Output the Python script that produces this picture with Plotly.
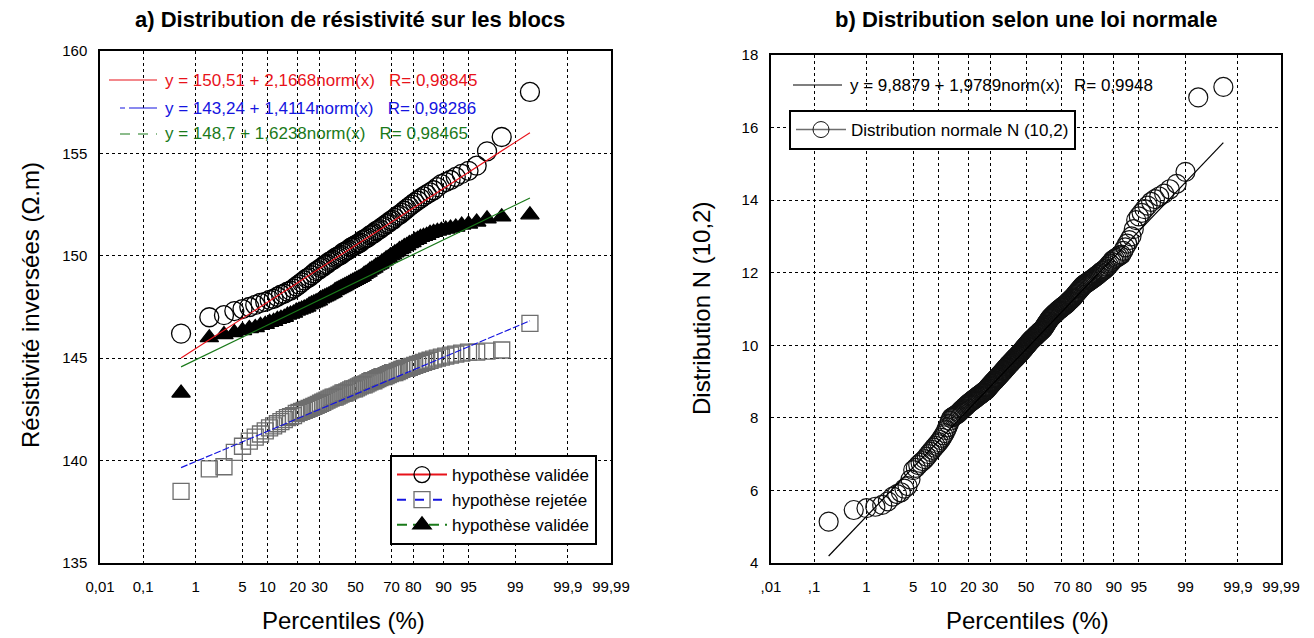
from statistics import NormalDist
import plotly.graph_objects as go

W, H = 1314, 638
OFF = 8  # marge par defaut du <body> de la page
nd = NormalDist()

# axes de probabilite (percentiles)
pct_ticks = [0.01, 0.1, 1, 5, 10, 20, 30, 50, 70, 80, 90, 95, 99, 99.9, 99.99]
labels_a = ["0,01", "0,1", "1", "5", "10", "20", "30", "50", "70", "80", "90", "95", "99", "99,9", "99,99"]
labels_b = [",01", ",1", "1", "5", "10", "20", "30", "50", "70", "80", "90", "95", "99", "99,9", "99,99"]

# a) resistivite inversee sur les blocs (valeurs triees)
bloc_valide_1 = [
    146.2, 147.0, 147.1, 147.3, 147.4, 147.5, 147.6, 147.7, 147.75, 147.85,
    147.9, 148.0, 148.1, 148.15, 148.25, 148.3, 148.4, 148.5, 148.6, 148.7,
    148.8, 148.9, 148.95, 149.05, 149.15, 149.25, 149.3, 149.4, 149.45, 149.55,
    149.6, 149.7, 149.75, 149.8, 149.9, 149.95, 150.0, 150.05, 150.15, 150.2,
    150.25, 150.3, 150.4, 150.45, 150.5, 150.55, 150.6, 150.65, 150.75, 150.8,
    150.85, 150.9, 151.0, 151.05, 151.1, 151.2, 151.25, 151.3, 151.4, 151.45,
    151.55, 151.6, 151.7, 151.75, 151.85, 151.95, 152.0, 152.1, 152.2, 152.3,
    152.4, 152.5, 152.6, 152.7, 152.8, 152.9, 153.0, 153.1, 153.2, 153.35,
    153.5, 153.6, 153.7, 153.85, 154.0, 154.15, 154.4, 155.1, 155.8, 158.0]
bloc_rejete = [
    138.5, 139.6, 139.7, 140.4, 140.7, 140.95, 141.15, 141.3, 141.45, 141.6,
    141.7, 141.8, 141.9, 142.0, 142.1, 142.15, 142.2, 142.3, 142.35, 142.4,
    142.45, 142.5, 142.55, 142.6, 142.65, 142.7, 142.75, 142.8, 142.85, 142.9,
    142.95, 143.0, 143.05, 143.1, 143.1, 143.15, 143.2, 143.25, 143.3, 143.3,
    143.35, 143.4, 143.45, 143.5, 143.5, 143.55, 143.6, 143.65, 143.7, 143.7,
    143.75, 143.8, 143.85, 143.9, 143.9, 143.95, 144.0, 144.05, 144.1, 144.1,
    144.15, 144.2, 144.25, 144.3, 144.3, 144.35, 144.4, 144.45, 144.5, 144.5,
    144.55, 144.6, 144.65, 144.7, 144.75, 144.8, 144.85, 144.9, 144.95, 145.0,
    145.05, 145.1, 145.15, 145.2, 145.25, 145.3, 145.3, 145.35, 145.4, 146.7]
bloc_valide_2 = [
    143.3, 146.0, 146.15, 146.25, 146.35, 146.45, 146.5, 146.6, 146.65, 146.75,
    146.8, 146.9, 146.95, 147.0, 147.1, 147.15, 147.2, 147.3, 147.35, 147.4,
    147.45, 147.5, 147.6, 147.65, 147.7, 147.75, 147.8, 147.9, 147.95, 148.0,
    148.05, 148.1, 148.15, 148.2, 148.3, 148.35, 148.4, 148.45, 148.5, 148.55,
    148.6, 148.65, 148.7, 148.75, 148.8, 148.85, 148.9, 148.95, 149.0, 149.1,
    149.15, 149.2, 149.3, 149.35, 149.4, 149.5, 149.55, 149.6, 149.7, 149.75,
    149.85, 149.9, 150.0, 150.05, 150.15, 150.2, 150.3, 150.35, 150.45, 150.5,
    150.6, 150.65, 150.75, 150.8, 150.9, 150.95, 151.0, 151.1, 151.15, 151.2,
    151.25, 151.3, 151.35, 151.4, 151.5, 151.55, 151.65, 151.8, 151.9, 152.0]

# b) echantillon de la loi normale N(10,2) (valeurs triees)
normale = [
    5.14, 5.46, 5.51, 5.55, 5.60, 5.70, 5.83, 5.90, 5.95, 6.05,
    6.12, 6.30, 6.56, 6.62, 6.70, 6.76, 6.81, 6.86, 6.93, 7.00,
    7.06, 7.12, 7.18, 7.23, 7.28, 7.33, 7.39, 7.45, 7.52, 7.58,
    7.66, 7.74, 7.83, 7.92, 8.00, 8.02, 8.04, 8.06, 8.08, 8.10,
    8.13, 8.16, 8.19, 8.22, 8.25, 8.27, 8.30, 8.32, 8.35, 8.38,
    8.40, 8.42, 8.44, 8.46, 8.48, 8.50, 8.52, 8.54, 8.56, 8.58,
    8.60, 8.62, 8.63, 8.65, 8.67, 8.69, 8.70, 8.72, 8.74, 8.75,
    8.78, 8.80, 8.83, 8.85, 8.88, 8.90, 8.93, 8.95, 8.98, 9.00,
    9.02, 9.04, 9.07, 9.09, 9.11, 9.13, 9.15, 9.18, 9.20, 9.22,
    9.24, 9.27, 9.29, 9.31, 9.33, 9.36, 9.38, 9.40, 9.42, 9.45,
    9.47, 9.49, 9.51, 9.53, 9.55, 9.57, 9.59, 9.61, 9.63, 9.65,
    9.67, 9.69, 9.71, 9.73, 9.75, 9.77, 9.79, 9.81, 9.83, 9.85,
    9.88, 9.90, 9.92, 9.94, 9.97, 9.99, 10.01, 10.03, 10.06, 10.08,
    10.10, 10.12, 10.14, 10.16, 10.18, 10.20, 10.21, 10.23, 10.25, 10.27,
    10.29, 10.31, 10.32, 10.34, 10.36, 10.38, 10.40, 10.41, 10.43, 10.45,
    10.48, 10.51, 10.54, 10.57, 10.60, 10.63, 10.66, 10.69, 10.72, 10.75,
    10.77, 10.79, 10.81, 10.83, 10.85, 10.87, 10.89, 10.91, 10.93, 10.95,
    10.97, 10.98, 11.00, 11.02, 11.04, 11.05, 11.07, 11.09, 11.10, 11.12,
    11.14, 11.16, 11.19, 11.21, 11.23, 11.25, 11.28, 11.30, 11.32, 11.35,
    11.38, 11.41, 11.44, 11.47, 11.50, 11.53, 11.56, 11.59, 11.62, 11.65,
    11.67, 11.69, 11.71, 11.73, 11.75, 11.77, 11.79, 11.81, 11.83, 11.85,
    11.88, 11.90, 11.93, 11.95, 11.98, 12.01, 12.04, 12.06, 12.09, 12.12,
    12.16, 12.21, 12.25, 12.30, 12.35, 12.38, 12.41, 12.44, 12.47, 12.50,
    12.60, 12.70, 12.80, 12.90, 13.00, 13.20, 13.45, 13.55, 13.65, 13.75,
    13.85, 13.95, 14.03, 14.10, 14.18, 14.30, 14.45, 14.78, 16.83, 17.12]

# droites d'ajustement y = a + b*norm(x)
fit_a = [150.51, 143.24, 148.7]
fit_b = [2.1668, 1.4114, 1.6238]
fit_r = ["0,98845", "0,98286", "0,98465"]
fit_a_txt = ["150,51", "143,24", "148,7"]
fit_b_txt = ["2,1668", "1,4114", "1,6238"]
norm_a, norm_b = 9.8879, 1.9789

RED, BLUE, GREEN, GREY = "#e8121a", "#1414e0", "#1a7a1a", "#6e6e6e"
FONT = "Liberation Sans, Arial, sans-serif"


def z_positions(n):
    # position de Hazen (i - 0.5) / n
    return [nd.inv_cdf((i - 0.5) / n) for i in range(1, n + 1)]


def px(x):
    return (x - OFF) / (W - OFF)


def py(y):
    return 1 - (y - OFF) / (H - OFF)


z_a = z_positions(len(bloc_valide_1))
z_b = z_positions(len(normale))
zr = [nd.inv_cdf(0.0001), nd.inv_cdf(0.9999)]
tick_z = [nd.inv_cdf(p / 100) for p in pct_ticks]

fig = go.Figure()

series_a = [
    (bloc_valide_1, "circle-open", 19, "#000000", RED, "solid", "solid", "hypothèse validée"),
    (bloc_rejete, "square-open", 16, GREY, BLUE, "7px,2px", "dash", "hypothèse rejetée"),
    (bloc_valide_2, "triangle-up", 16, "#000000", GREEN, "solid", "10px,6px", "hypothèse validée"),
]
for vals, sym, size, mcol, lcol, dash, ldash, name in series_a:
    fig.add_trace(go.Scatter(
        x=z_a, y=vals, mode="markers", showlegend=False,
        marker=dict(symbol=sym, size=size, color=mcol, line=dict(color=mcol, width=1.3)),
        xaxis="x", yaxis="y"))
for k, (vals, sym, size, mcol, lcol, dash, ldash, name) in enumerate(series_a):
    zl = [z_a[0], z_a[-1]]
    fig.add_trace(go.Scatter(
        x=zl, y=[fit_a[k] + fit_b[k] * z for z in zl], mode="lines", showlegend=False,
        line=dict(color=lcol, width=1.2, dash=dash), xaxis="x", yaxis="y"))
for vals, sym, size, mcol, lcol, dash, ldash, name in series_a:
    fig.add_trace(go.Scatter(
        x=[None], y=[None], mode="lines+markers", name=name, legend="legend",
        marker=dict(symbol=sym, size=size, color=mcol, line=dict(color=mcol, width=1.3)),
        line=dict(color=lcol, width=2, dash=ldash), xaxis="x", yaxis="y"))

# b) loi normale
fig.add_trace(go.Scatter(
    x=z_b, y=normale, mode="markers", showlegend=False,
    marker=dict(symbol="circle-open", size=19, color="#111111", line=dict(color="#111111", width=1.2)),
    xaxis="x2", yaxis="y2"))
zl = [z_b[0], z_b[-1]]
fig.add_trace(go.Scatter(
    x=zl, y=[norm_a + norm_b * z for z in zl], mode="lines", showlegend=False,
    line=dict(color="#000000", width=1.2), xaxis="x2", yaxis="y2"))
fig.add_trace(go.Scatter(
    x=[None], y=[None], mode="lines+markers", name="Distribution normale N (10,2)", legend="legend2",
    marker=dict(symbol="circle-open", size=19, color="#111111", line=dict(color="#111111", width=1)),
    line=dict(color=GREY, width=1.5), xaxis="x2", yaxis="y2"))

axis_common = dict(
    showgrid=True, gridcolor="#000000", gridwidth=1, griddash="3px,3px",
    showline=True, mirror=True, linecolor="#000000", linewidth=1.5,
    zeroline=False, ticks="", tickfont=dict(family=FONT, size=15, color="#000000"),
    automargin=False,
)

fig.update_layout(
    width=W - OFF, height=H - OFF,
    margin=dict(l=0, r=0, t=0, b=0),
    paper_bgcolor="white", plot_bgcolor="white",
    font=dict(family=FONT, color="#000000"),
    xaxis=dict(axis_common, domain=[px(100), px(611)], range=zr, tickvals=tick_z,
               ticktext=labels_a, anchor="y", ticklabelstandoff=9),
    yaxis=dict(axis_common, domain=[py(563), py(51)], range=[135, 160], tick0=135, dtick=5,
               anchor="x", ticklabelstandoff=8),
    xaxis2=dict(axis_common, domain=[px(771), px(1281)], range=zr, tickvals=tick_z,
                ticktext=labels_b, anchor="y2", ticklabelstandoff=9),
    yaxis2=dict(axis_common, domain=[py(563), py(55)], range=[4, 18], tick0=4, dtick=2,
                anchor="x2", ticklabelstandoff=8),
    legend=dict(x=px(390), y=py(455), xanchor="left", yanchor="top", itemwidth=50,
                bgcolor="white", bordercolor="#000000", borderwidth=2,
                font=dict(family=FONT, size=17, color="#000000")),
    legend2=dict(x=px(789), y=py(110), xanchor="left", yanchor="top", itemwidth=50,
                 bgcolor="white", bordercolor="#000000", borderwidth=2,
                 font=dict(family=FONT, size=17, color="#000000")),
)

ann = []
ann.append(dict(text="<b>a) Distribution de résistivité sur les blocs</b>", x=px(350), y=py(19),
                font=dict(size=22)))
ann.append(dict(text="<b>b) Distribution selon une loi normale</b>", x=px(1026), y=py(19),
                font=dict(size=22)))
ann.append(dict(text="Percentiles (%)", x=px(343), y=py(620), font=dict(size=24)))
ann.append(dict(text="Percentiles (%)", x=px(1027), y=py(620), font=dict(size=24)))
ann.append(dict(text="Résistivité inversées (Ω.m)", x=px(30), y=py(305), textangle=-90,
                font=dict(size=24)))
ann.append(dict(text="Distribution N (10,2)", x=px(701), y=py(309), textangle=-90,
                font=dict(size=24)))

eq_rows = [80, 108, 134]
eq_colors = [RED, BLUE, GREEN]
for k in range(3):
    ann.append(dict(
        text=f"y = {fit_a_txt[k]} + {fit_b_txt[k]}norm(x)\u00a0\u00a0\u00a0R= {fit_r[k]}",
        x=px(163), y=py(eq_rows[k]), xanchor="left", font=dict(size=17, color=eq_colors[k])))
ann.append(dict(text="y = 9,8879 + 1,9789norm(x)\u00a0\u00a0\u00a0R= 0,9948",
                x=px(848), y=py(85), xanchor="left", font=dict(size=17, color="#000000")))
for a in ann:
    a.setdefault("xref", "paper")
    a.setdefault("yref", "paper")
    a.setdefault("showarrow", False)
    a.setdefault("xanchor", "center")
    a.setdefault("yanchor", "middle")
fig.update_layout(annotations=ann)

# petits traits devant les equations
samples = [
    (109, 157, 80, RED, "solid"),
    (120, 157, 108, BLUE, "5px,4px,28px"),
    (120, 157, 134, GREEN, "10px,8px"),
    (793, 842, 85, "#000000", "solid"),
]
shapes = []
for x0, x1, y, col, dash in samples:
    shapes.append(dict(type="line", xref="paper", yref="paper", x0=px(x0), x1=px(x1),
                       y0=py(y), y1=py(y), line=dict(color=col, width=1.2, dash=dash)))
fig.update_layout(shapes=shapes)

fig.write_html("out.html")
